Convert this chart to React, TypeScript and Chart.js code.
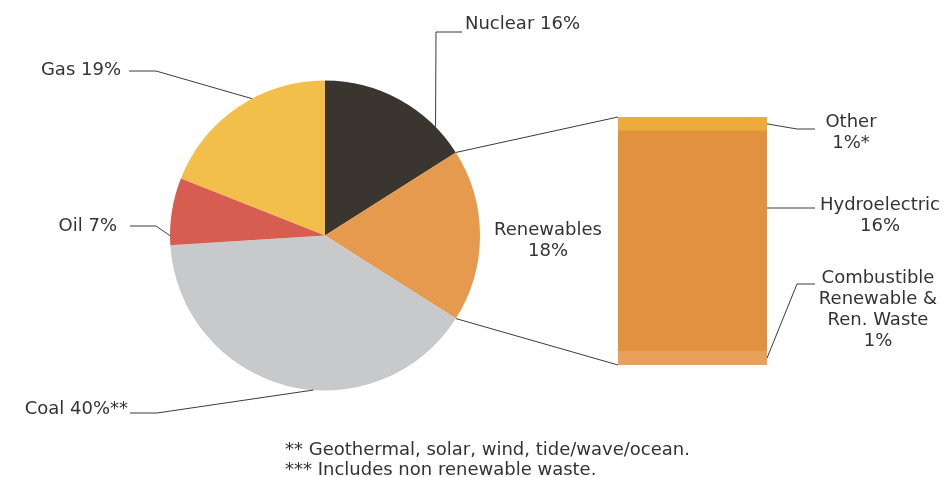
import React, { useEffect, useRef } from 'react';
import { Chart, registerables } from 'chart.js';

Chart.register(...registerables);

const W = 952;
const H = 477;

// Primary energy mix (pie)
const sources = ['Gas', 'Nuclear', 'Renewables', 'Coal', 'Oil'];
const sourceShares = [19, 16, 18, 40, 7];
const sourceColors = ['#F3BF4B', '#3B352F', '#E69A4E', '#C8C9CB', '#D65D50'];
const sourceMarks = ['', '', '', '**', ''];

// Breakdown of the renewables slice (stacked bar, bottom to top)
const renewableParts = ['Combustible Renewable & Ren. Waste', 'Hydroelectric', 'Other'];
const renewableLines = [['Combustible', 'Renewable &', 'Ren. Waste'], ['Hydroelectric'], ['Other']];
const renewableShares = [1, 16, 1];
const renewableColors = ['#E8A05A', '#E2913F', '#EDAB3B'];
const renewableMarks = ['', '', '*'];

const footnotes = [
  '** Geothermal, solar, wind, tide/wave/ocean.',
  '*** Includes non renewable waste.',
];

const FONT = '18px "DejaVu Sans", Verdana, sans-serif';
const TEXT = '#333333';
const LINE = '#3a3a3a';

type Pt = [number, number];

// Callouts for pie slices: text anchor, elbow points, and where along the slice the line lands
const pieCallouts: { index: number; x: number; y: number; align: CanvasTextAlign; path: Pt[]; at: number }[] = [
  { index: 0, x: 121, y: 75, align: 'right', path: [[129, 71], [156, 71]], at: 0.59 },
  { index: 1, x: 465, y: 29, align: 'left', path: [[462, 32], [436, 32]], at: 0.79 },
  { index: 3, x: 128, y: 414, align: 'right', path: [[130, 413], [157, 413]], at: 0.43 },
  { index: 4, x: 117, y: 231, align: 'right', path: [[130, 226], [156, 226]], at: 0.14 },
];

// Callouts for the bar segments
const barCallouts: { index: number; x: number; y: number; path: Pt[]; fixedY?: number }[] = [
  { index: 2, x: 851, y: 127, path: [[797, 129], [815, 129]] },
  { index: 1, x: 880, y: 210, path: [[815, 208]], fixedY: 208 },
  { index: 0, x: 878, y: 283, path: [[797, 284], [815, 284]] },
];

function arcPoint(arc: any, frac: number): Pt {
  const a = arc.startAngle + (arc.endAngle - arc.startAngle) * frac;
  return [arc.x + arc.outerRadius * Math.cos(a), arc.y + arc.outerRadius * Math.sin(a)];
}

function polyline(ctx: CanvasRenderingContext2D, pts: Pt[]) {
  ctx.beginPath();
  ctx.moveTo(pts[0][0], pts[0][1]);
  for (let i = 1; i < pts.length; i++) ctx.lineTo(pts[i][0], pts[i][1]);
  ctx.stroke();
}

function textLines(ctx: CanvasRenderingContext2D, lines: string[], x: number, y: number, align: CanvasTextAlign) {
  ctx.textAlign = align;
  ctx.textBaseline = 'alphabetic';
  lines.forEach((l, i) => ctx.fillText(l, x, y + i * 21));
}

export default function App() {
  const pieRef = useRef<HTMLCanvasElement>(null);
  const barRef = useRef<HTMLCanvasElement>(null);

  useEffect(() => {
    if (!pieRef.current || !barRef.current) return;

    const pieLabels = {
      id: 'pieLabels',
      afterDraw(chart: any) {
        const ctx: CanvasRenderingContext2D = chart.ctx;
        const arcs = chart.getDatasetMeta(0).data;
        ctx.save();
        ctx.strokeStyle = LINE;
        ctx.lineWidth = 1;
        ctx.fillStyle = TEXT;
        ctx.font = FONT;
        pieCallouts.forEach((c) => {
          const end = arcPoint(arcs[c.index], c.at);
          polyline(ctx, [...c.path, end]);
          const label = `${sources[c.index]} ${sourceShares[c.index]}%${sourceMarks[c.index]}`;
          textLines(ctx, [label], c.x, c.y, c.align);
        });
        // Renewables label sits between the pie and the bar
        textLines(ctx, [sources[2], `${sourceShares[2]}%`], 548, 235, 'center');
        footnotes.forEach((f, i) => textLines(ctx, [f], 285, 455 + i * 20, 'left'));
        ctx.restore();
      },
    };

    const pie = new Chart(pieRef.current, {
      type: 'pie',
      data: {
        labels: sources,
        datasets: [
          {
            data: sourceShares,
            backgroundColor: sourceColors,
            borderWidth: 0,
            hoverOffset: 0,
          },
        ],
      },
      options: {
        responsive: false,
        animation: false,
        events: [],
        rotation: -(((sourceShares[0] + sourceShares[1] + sourceShares[2] / 2) / 100) * 360) + 90,
        layout: { padding: { left: 170, right: 472, top: 80, bottom: 86 } },
        plugins: { legend: { display: false }, tooltip: { enabled: false } },
      },
      plugins: [pieLabels],
    });

    const barLabels = {
      id: 'barLabels',
      afterDraw(chart: any) {
        const ctx: CanvasRenderingContext2D = chart.ctx;
        const segs = renewableParts.map((_, i) => chart.getDatasetMeta(i).data[0]);
        const bottom = segs[0];
        const top = segs[segs.length - 1];
        const left = bottom.x - bottom.width / 2;
        const right = bottom.x + bottom.width / 2;
        const renewArc = pie.getDatasetMeta(0).data[2];
        ctx.save();
        ctx.strokeStyle = LINE;
        ctx.lineWidth = 1;
        // Connectors from the renewables slice to the bar
        polyline(ctx, [arcPoint(renewArc, 0), [left, top.y]]);
        polyline(ctx, [arcPoint(renewArc, 1), [left, bottom.base]]);
        ctx.fillStyle = TEXT;
        ctx.font = FONT;
        barCallouts.forEach((c) => {
          const s = segs[c.index];
          const sy = c.fixedY !== undefined ? c.fixedY : (s.y + s.base) / 2;
          polyline(ctx, [[right, sy], ...c.path]);
          const lines = [...renewableLines[c.index], `${renewableShares[c.index]}%${renewableMarks[c.index]}`];
          textLines(ctx, lines, c.x, c.y, 'center');
        });
        ctx.restore();
      },
    };

    const bar = new Chart(barRef.current, {
      type: 'bar',
      data: {
        labels: [sources[2]],
        datasets: renewableParts.map((p, i) => ({
          label: p,
          data: [renewableShares[i]],
          backgroundColor: renewableColors[i],
          borderWidth: 0,
          barPercentage: 1,
          categoryPercentage: 1,
        })),
      },
      options: {
        responsive: false,
        animation: false,
        events: [],
        layout: { padding: { left: 618, right: 185, top: 117, bottom: 112 } },
        scales: {
          x: { display: false, stacked: true },
          y: {
            display: false,
            stacked: true,
            min: 0,
            max: renewableShares.reduce((a, b) => a + b, 0),
          },
        },
        plugins: { legend: { display: false }, tooltip: { enabled: false } },
      },
      plugins: [barLabels],
    });

    return () => {
      bar.destroy();
      pie.destroy();
    };
  }, []);

  const canvasStyle: React.CSSProperties = {
    position: 'absolute',
    left: 0,
    top: 0,
    width: W,
    height: H,
  };

  return (
    <div style={{ position: 'fixed', left: 0, top: 0, width: W, height: H, background: '#ffffff' }}>
      <canvas ref={pieRef} width={W} height={H} style={canvasStyle} />
      <canvas ref={barRef} width={W} height={H} style={canvasStyle} />
    </div>
  );
}
